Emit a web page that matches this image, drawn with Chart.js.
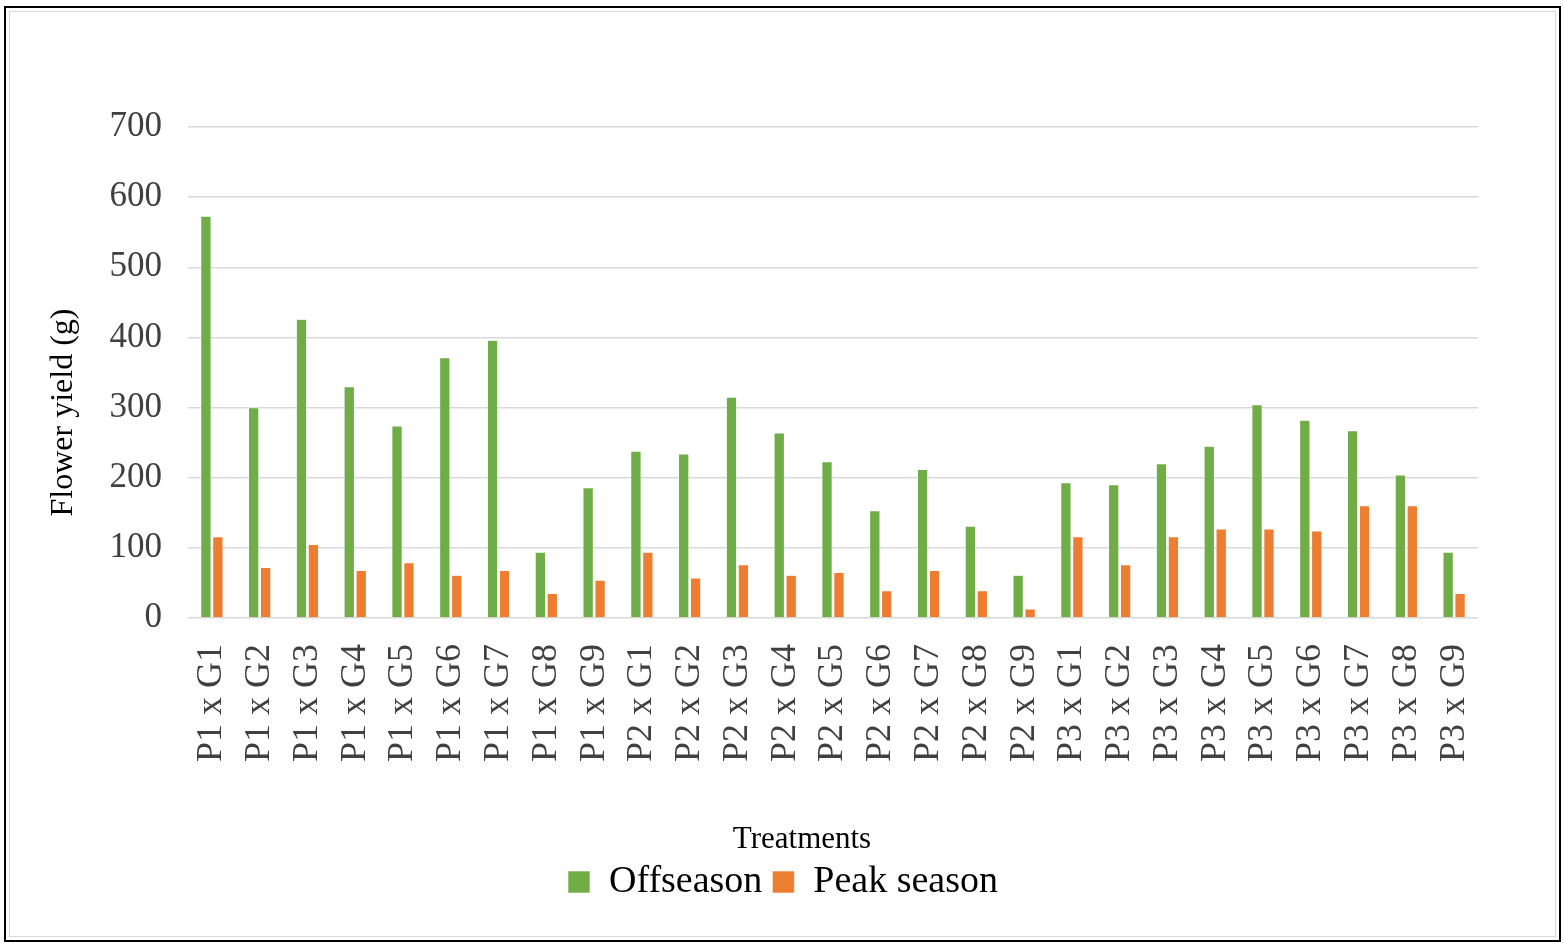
<!DOCTYPE html>
<html>
<head>
<meta charset="utf-8">
<script src="https://cdn.jsdelivr.net/npm/chart.js@4"></script>
<style>
  html, body { margin: 0; padding: 0; background: #fff; }
  #frame { position: absolute; left: 4px; top: 6px; width: 1553px; height: 932px; border: 2px solid #000; }
  #inner { position: absolute; left: 9px; top: 11px; width: 1545px; height: 924px; border: 1px solid #d9d9d9; }
  #wrap { position: absolute; left: 0; top: 0; width: 1563px; height: 944px; }
</style>
</head>
<body>
<div id="frame"></div>
<div id="inner"></div>
<div id="wrap"><canvas id="chart"></canvas></div>
<script>
// Treatment combinations (parent x genotype)
const treatments = [
  'P1 x G1', 'P1 x G2', 'P1 x G3', 'P1 x G4', 'P1 x G5', 'P1 x G6', 'P1 x G7', 'P1 x G8', 'P1 x G9',
  'P2 x G1', 'P2 x G2', 'P2 x G3', 'P2 x G4', 'P2 x G5', 'P2 x G6', 'P2 x G7', 'P2 x G8', 'P2 x G9',
  'P3 x G1', 'P3 x G2', 'P3 x G3', 'P3 x G4', 'P3 x G5', 'P3 x G6', 'P3 x G7', 'P3 x G8', 'P3 x G9'
];

// Flower yield (g)
const offseason = [
  573, 300, 426, 330, 274, 371, 396, 94, 186,
  238, 234, 315, 264, 223, 153, 212, 131, 61,
  193, 190, 220, 245, 304, 282, 267, 204, 94
];
const peakSeason = [
  116, 72, 105, 68, 79, 61, 68, 35, 54,
  94, 57, 76, 61, 65, 39, 68, 39, 13,
  116, 76, 116, 127, 127, 124, 160, 160, 35
];

const yTicks = [0, 100, 200, 300, 400, 500, 600, 700];

const GREEN = '#70AD47';
const ORANGE = '#ED7D31';
const SERIF = "'Liberation Serif', 'Times New Roman', serif";

Chart.defaults.font.family = SERIF;

// nudge the legend a little right, like the original figure
const legendShift = {
  id: 'legendShift',
  afterLayout(chart) {
    chart.legend.left += 24;
    chart.legend.right += 24;
  },
};

new Chart(document.getElementById('chart'), {
  type: 'bar',
  data: {
    labels: treatments,
    datasets: [
      {
        label: 'Offseason',
        data: offseason,
        backgroundColor: GREEN,
        borderColor: '#ffffff',
        borderWidth: 0.6,
        categoryPercentage: 0.5,
        barPercentage: 0.88,
      },
      {
        label: 'Peak season',
        data: peakSeason,
        backgroundColor: ORANGE,
        borderColor: '#ffffff',
        borderWidth: 0.6,
        categoryPercentage: 0.5,
        barPercentage: 0.88,
      },
    ],
  },
  plugins: [legendShift],
  options: {
    responsive: true,
    maintainAspectRatio: false,
    animation: false,
    layout: { padding: { left: 40, right: 85, top: 127, bottom: 33 } },
    plugins: {
      tooltip: { enabled: false },
      legend: {
        display: true,
        position: 'bottom',
        labels: {
          boxWidth: 22,
          boxHeight: 22,
          padding: 10,
          color: '#000',
          font: { family: SERIF, size: 38 },
        },
      },
    },
    scales: {
      x: {
        grid: { display: false, drawTicks: false },
        border: { display: false },
        ticks: {
          autoSkip: false,
          minRotation: 90,
          maxRotation: 90,
          padding: 26,
          color: '#404040',
          font: { family: SERIF, size: 36 },
        },
        title: {
          display: true,
          text: 'Treatments        ',
          color: '#000',
          font: { family: SERIF, size: 31 },
          padding: { top: 0, bottom: -5 },
        },
        afterFit: (scale) => { scale.height = 235; },
      },
      y: {
        min: 0,
        max: 700,
        afterBuildTicks: (scale) => { scale.ticks = yTicks.map(v => ({ value: v })); },
        grid: { color: '#d9d9d9', lineWidth: 1.5, drawTicks: false },
        border: { display: false },
        ticks: {
          padding: 26,
          color: '#404040',
          font: { family: SERIF, size: 35 },
        },
        title: {
          display: true,
          text: 'Flower yield (g)          ',
          color: '#000',
          font: { family: SERIF, size: 32 },
          padding: { top: 4, bottom: 0 },
        },
        afterFit: (scale) => { scale.width = 148; },
      },
    },
  },
});
</script>
</body>
</html>
